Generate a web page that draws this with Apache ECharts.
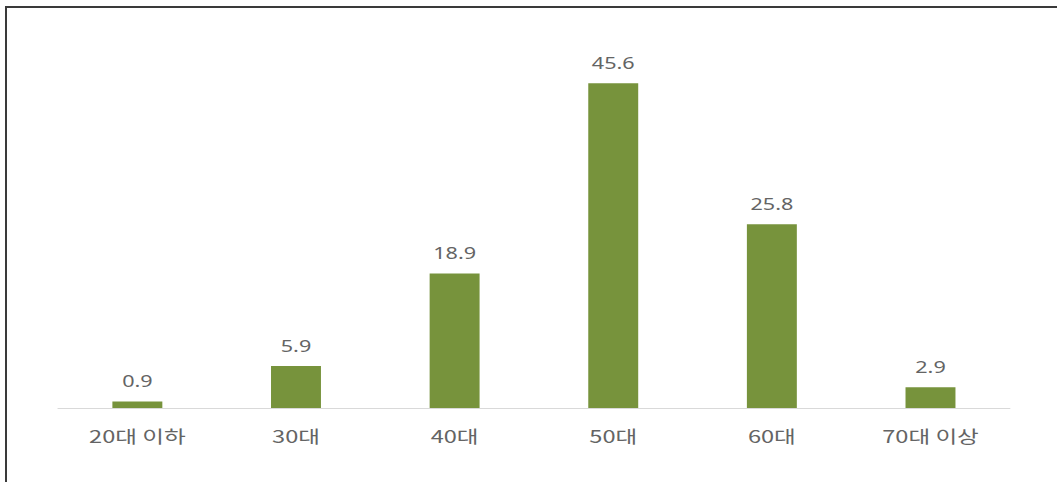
<!DOCTYPE html>
<html>
<head>
<meta charset="utf-8">
<script src="https://cdn.jsdelivr.net/npm/echarts@6/dist/echarts.min.js"></script>
<style>
  html, body { margin: 0; padding: 0; background: #fff; }
  #wrap { position: relative; width: 1057px; height: 482px; overflow: hidden; }
  #frame { position: absolute; left: 5px; top: 6px; right: -4px; bottom: -4px;
           border-top: 2px solid #3a3a3a; border-left: 2px solid #3a3a3a; pointer-events: none; z-index: 2; }
  /* the plot is laid out narrower and widened horizontally, giving the broad lettering */
  #chart { position: absolute; left: 0; top: 0; width: 783px; height: 482px;
           transform: scaleX(1.35); transform-origin: 0 0; }
</style>
</head>
<body>
<div id="wrap">
  <div id="chart"></div>
  <div id="frame"></div>
</div>
<script>
// Age groups and their shares (%)
const categories = ['20대 이하', '30대', '40대', '50대', '60대', '70대 이상'];
const shares = [0.9, 5.9, 18.9, 45.6, 25.8, 2.9];

const chart = echarts.init(document.getElementById('chart'), null, { renderer: 'svg', width: 783, height: 482 });
chart.setOption({
  animation: false,
  grid: { left: 43, right: 35, top: 52, bottom: 74 },
  xAxis: {
    type: 'category',
    data: categories,
    axisLine: { lineStyle: { color: '#d9d9d9', width: 1 } },
    axisTick: { show: false },
    axisLabel: {
      color: '#646464',
      fontSize: 17.5,
      margin: 19,
      fontFamily: 'Noto Sans CJK KR, Noto Sans, sans-serif'
    }
  },
  yAxis: {
    type: 'value',
    min: 0,
    max: 50,
    show: false,
    splitLine: { show: false }
  },
  series: [{
    type: 'bar',
    data: shares,
    barWidth: 37,
    itemStyle: { color: '#77933c' },
    label: {
      show: true,
      position: 'top',
      distance: 12,
      color: '#646464',
      fontSize: 16,
      fontFamily: 'Noto Sans, sans-serif',
      formatter: p => p.value.toFixed(1)
    }
  }]
});
</script>
</body>
</html>
